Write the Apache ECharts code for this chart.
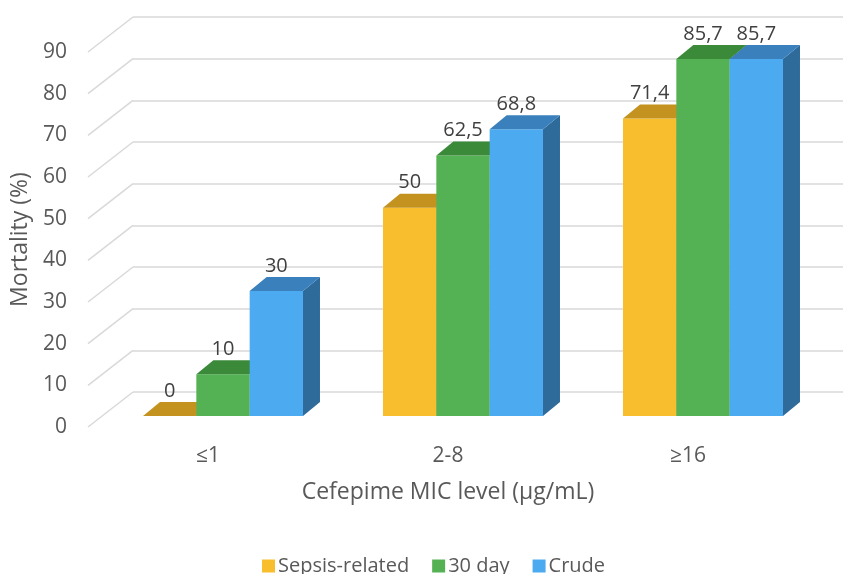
<!DOCTYPE html>
<html>
<head>
<meta charset="utf-8">
<script src="https://cdn.jsdelivr.net/npm/echarts@6/dist/echarts.min.js"></script>
<style>
  html, body { margin: 0; padding: 0; background: #fff; }
  #chart { width: 843px; height: 574px; }
</style>
</head>
<body>
<div id="chart"></div>
<script>
// Mortality (%) by cefepime MIC level
const categories = ['≤1', '2-8', '≥16'];
const sepsisRelated = [0, 50, 71.4];
const day30 = [10, 62.5, 85.7];
const crude = [30, 68.8, 85.7];
const yTicks = [0, 10, 20, 30, 40, 50, 60, 70, 80, 90];

const seriesNames = ['Sepsis-related', '30 day', 'Crude'];
const seriesValues = [sepsisRelated, day30, crude];
const palette = [
  { front: '#F8BE2E', top: '#C4931F', side: '#B3861B' },
  { front: '#55B254', top: '#3B8A3A', side: '#3A7D39' },
  { front: '#4CAAF0', top: '#3A80BD', side: '#2E6B9B' }
];

// perspective offsets (pixels): floor depth, bar front plane, bar depth
const WALL_DX = 45, WALL_DY = -35;
const FRONT_DX = 15, FRONT_DY = -11;
const BAR_DX = 17, BAR_DY = -14;
const TEXT = '#595959';
const GRID_LINE = '#D9D9D9';
const FONT = '"Open Sans", "DejaVu Sans", sans-serif';

function fmt(v) { return String(v).replace('.', ','); }

function barRenderer(sIdx) {
  return function (params, api) {
    const cat = api.value(0);
    const v = api.value(1);
    const base = api.coord([cat, 0]);
    const top = api.coord([cat, v]);
    const band = api.size([1, 0])[0];
    const bw = band * 0.2222;
    const cx = base[0] + (sIdx - 1) * bw + FRONT_DX;
    const x0 = cx - bw / 2, x1 = cx + bw / 2;
    const yb = base[1] + FRONT_DY;
    const yt = top[1] + FRONT_DY;
    const c = palette[sIdx];
    const children = [];
    if (yb - yt > 0.5) {
      children.push({
        type: 'polygon',
        shape: { points: [[x1, yb], [x1 + BAR_DX, yb + BAR_DY], [x1 + BAR_DX, yt + BAR_DY], [x1, yt]] },
        style: { fill: c.side }
      });
      children.push({
        type: 'rect',
        shape: { x: x0, y: yt, width: bw, height: yb - yt },
        style: { fill: c.front }
      });
    }
    children.push({
      type: 'polygon',
      shape: { points: [[x0, yt], [x1, yt], [x1 + BAR_DX, yt + BAR_DY], [x0 + BAR_DX, yt + BAR_DY]] },
      style: { fill: c.top }
    });
    children.push({
      type: 'text',
      z2: 100,
      style: {
        text: fmt(v), x: cx, y: yt - 25,
        align: 'center', verticalAlign: 'middle',
        fill: '#404040', font: '20px ' + FONT
      }
    });
    return { type: 'group', children: children };
  };
}

const barSeries = seriesNames.map(function (name, i) {
  return {
    type: 'custom',
    name: name,
    xAxisIndex: 0, yAxisIndex: 0,
    itemStyle: { color: palette[i].front },
    renderItem: barRenderer(i),
    data: categories.map(function (c, k) { return [k, seriesValues[i][k]]; }),
    z: 3
  };
});

// side-wall gridlines running from each tick label back to the rear wall
const wallSeries = {
  type: 'custom',
  xAxisIndex: 0, yAxisIndex: 0,
  silent: true,
  z: 1,
  renderItem: function (params, api) {
    const p = api.coord([0, api.value(0)]);
    const x = params.coordSys.x;
    return {
      type: 'line',
      shape: { x1: x, y1: p[1], x2: x + WALL_DX, y2: p[1] + WALL_DY },
      style: { stroke: GRID_LINE, lineWidth: 1.5 }
    };
  },
  data: yTicks.map(function (t) { return [t]; }),
  encode: { y: 0 }
};

const chart = echarts.init(document.getElementById('chart'), null, { renderer: 'canvas' });
chart.setOption({
  backgroundColor: '#ffffff',
  animation: false,
  textStyle: { fontFamily: FONT },
  grid: [
    { left: 88, top: 52, width: 720, height: 375 },
    { left: 88 + WALL_DX, top: 52 + WALL_DY, right: 0, height: 375 }
  ],
  xAxis: [
    {
      type: 'category', gridIndex: 0, data: categories,
      axisLine: { show: false }, axisTick: { show: false },
      axisLabel: { color: TEXT, fontSize: 21, margin: 19, fontFamily: FONT },
      name: 'Cefepime MIC level (µg/mL)', nameLocation: 'middle', nameGap: 54,
      nameTextStyle: { color: TEXT, fontSize: 23, fontFamily: FONT }
    },
    { type: 'value', gridIndex: 1, show: false, min: 0, max: 1 }
  ],
  yAxis: [
    {
      type: 'value', gridIndex: 0, min: 0, max: 90, interval: 10,
      axisLine: { show: false }, axisTick: { show: false }, splitLine: { show: false },
      axisLabel: { color: TEXT, fontSize: 21, margin: 21, fontFamily: FONT },
      name: 'Mortality (%)', nameLocation: 'middle', nameGap: 50,
      nameTextStyle: { color: TEXT, fontSize: 23, fontFamily: FONT }
    },
    {
      type: 'value', gridIndex: 1, min: 0, max: 90, interval: 10,
      axisLine: { show: false }, axisTick: { show: false }, axisLabel: { show: false },
      splitLine: { show: true, lineStyle: { color: GRID_LINE, width: 1.5 } }
    }
  ],
  legend: {
    left: 257, top: 551,
    icon: 'rect', itemWidth: 13, itemHeight: 13, itemGap: 23,
    textStyle: { color: TEXT, fontSize: 20, fontFamily: FONT, padding: [0, 0, 0, -2] },
    data: seriesNames
  },
  series: [wallSeries].concat(barSeries)
});
</script>
</body>
</html>
